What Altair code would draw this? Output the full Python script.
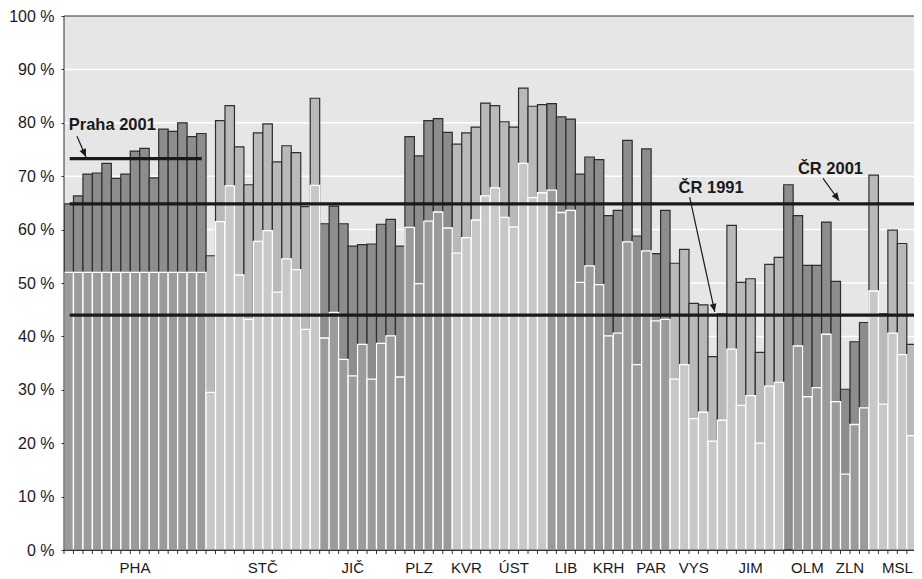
import altair as alt
import pandas as pd

# ---------------- data ----------------
regions = ["PHA", "STČ", "JIČ", "PLZ", "KVR", "ÚST", "LIB", "KRH", "PAR",
           "VYS", "JIM", "OLM", "ZLN", "MSL"]
district_counts = [15, 12, 7, 7, 3, 7, 4, 5, 4, 5, 7, 5, 4, 6]
region_shade = ["dark", "light", "dark", "dark", "light", "light", "dark",
                "dark", "dark", "light", "light", "dark", "dark", "light"]

share_2001 = [
    64.8, 66.3, 70.4, 70.6, 72.4, 69.6, 70.4, 74.7, 75.2, 69.7, 78.8, 78.4, 80.0, 77.4, 78.0,   # PHA
    55.1, 80.4, 83.2, 75.5, 68.4, 78.1, 79.8, 72.7, 75.7, 74.4, 64.3, 84.6,                     # STČ
    61.1, 64.4, 61.1, 56.9, 57.2, 57.3, 61.0,                                                   # JIČ
    61.9, 56.9, 77.4, 73.8, 80.4, 80.8, 78.2,                                                   # PLZ
    76.0, 78.1, 79.2,                                                                           # KVR
    83.7, 83.2, 80.2, 79.2, 86.5, 83.1, 83.4,                                                   # ÚST
    83.6, 81.1, 80.7, 70.4,                                                                     # LIB
    73.6, 73.1, 62.6, 63.6, 76.7,                                                               # KRH
    58.8, 75.1, 55.5, 63.6,                                                                     # PAR
    53.7, 56.3, 46.2, 45.9, 36.2,                                                               # VYS
    44.2, 60.8, 50.1, 50.8, 37.0, 53.5, 54.8,                                                   # JIM
    68.4, 62.6, 53.3, 53.3, 61.4,                                                               # OLM
    50.3, 30.1, 39.0, 42.6,                                                                     # ZLN
    70.2, 44.2, 59.9, 57.4, 38.5, 67.9,                                                         # MSL
]
share_1991 = [
    52.0, 52.0, 52.0, 52.0, 52.0, 52.0, 52.0, 52.0, 52.0, 52.0, 52.0, 52.0, 52.0, 52.0, 52.0,   # PHA
    29.5, 61.5, 68.2, 51.5, 43.2, 57.8, 59.8, 48.3, 54.5, 52.5, 41.3, 68.3,                     # STČ
    39.7, 44.5, 35.7, 32.6, 38.5, 32.0, 38.7,                                                   # JIČ
    40.1, 32.4, 60.4, 49.9, 61.6, 63.3, 60.3,                                                   # PLZ
    55.6, 58.5, 61.8,                                                                           # KVR
    66.3, 67.8, 62.3, 60.5, 72.4, 66.0, 66.9,                                                   # ÚST
    67.4, 63.2, 63.6, 50.1,                                                                     # LIB
    53.2, 49.7, 40.1, 40.6, 57.7,                                                               # KRH
    34.7, 56.0, 42.9, 43.2,                                                                     # PAR
    32.0, 34.7, 24.6, 25.8, 20.4,                                                               # VYS
    24.3, 37.6, 27.1, 28.9, 20.0, 30.7, 31.4,                                                   # JIM
    None, 38.2, 28.7, 30.4, 40.4,                                                               # OLM
    27.8, 14.2, 23.5, 26.6,                                                                     # ZLN
    48.5, 27.3, 40.6, 36.6, 21.4, 47.5,                                                         # MSL
]

# reference lines (value, start, end in bar units)
ref_names = ["ČR 2001", "ČR 1991", "Praha 2001"]
ref_values = [64.8, 44.0, 73.3]
ref_start = [0.6, 0.6, 0.6]
ref_end = [91.0, 91.0, 14.55]

# annotation labels (left x in bar units, baseline y in %)
note_text = ["Praha 2001", "ČR 1991", "ČR 2001"]
note_x = [0.5, 64.9, 77.5]
note_y = [78.65, 66.85, 70.5]
# arrows: start -> tip, and heading angle of the head
arrow_x0 = [1.37, 66.07, 80.15]
arrow_y0 = [77.5, 66.1, 69.6]
arrow_x1 = [2.32, 68.72, 81.86]
arrow_y1 = [73.6, 44.6, 65.4]
arrow_angle = [156.8, 167.7, 144.2]

y_ticks = list(range(0, 101, 10))

# ---------------- tables ----------------
rows = []
region_rows = []
i = 0
for reg, n, sh in zip(regions, district_counts, region_shade):
    region_rows.append({"region": reg, "center": i + n / 2})
    for _ in range(n):
        rows.append({"pos": i, "pos_end": i + 1, "region": reg, "shade": sh,
                     "v2001": share_2001[i], "v1991": share_1991[i]})
        i += 1
n_bars = i
bars = pd.DataFrame(rows)
reg_df = pd.DataFrame(region_rows)
refs = pd.DataFrame({"name": ref_names, "value": ref_values, "x0": ref_start, "x1": ref_end})
notes = pd.DataFrame({"text": note_text, "x": note_x, "y": note_y})
arrows = pd.DataFrame({"x0": arrow_x0, "y0": arrow_y0, "x1": arrow_x1, "y1": arrow_y1,
                       "angle": arrow_angle})
grid_df = pd.DataFrame({"v": y_ticks[1:-1]})
one = pd.DataFrame({"k": [0]})

W, H = 850, 534
X_MAX = 89.76
tick_df = pd.DataFrame({"b": [b for b in range(0, n_bars + 1) if b <= X_MAX]})

xs = alt.Scale(domain=[0, X_MAX], nice=False, zero=False)
ys = alt.Scale(domain=[0, 100], nice=False)

AX_FONT = "Liberation Sans, Arial, sans-serif"
INK = "#1a1a1a"

x_axis = alt.Axis(labels=False, ticks=False, domainColor="#333333", grid=False,
                  title=None, zindex=1)
y_axis = alt.Axis(values=y_ticks, labelExpr="datum.value + ' %'", tickSize=3,
                  tickColor="#333333", domainColor="#333333", labelFont=AX_FONT,
                  labelFontSize=16, labelColor=INK, labelPadding=7, grid=False,
                  title=None)

background = alt.Chart(one).mark_rect(color="#e6e6e6").encode(
    x=alt.value(0), x2=alt.value(W), y=alt.value(0), y2=alt.value(H))

grid = alt.Chart(grid_df).mark_rule(color="#ffffff", strokeWidth=1.5).encode(
    y=alt.Y("v:Q", scale=ys), x=alt.value(0), x2=alt.value(W))

base = alt.Chart(bars)

bar2001 = base.mark_rect(stroke="#2e2e2e", strokeWidth=1.2, clip=True).encode(
    x=alt.X("pos:Q", scale=xs, axis=x_axis),
    x2="pos_end:Q",
    y=alt.Y("v2001:Q", scale=ys, axis=y_axis),
    y2=alt.datum(0),
    fill=alt.condition(alt.datum.shade == "dark", alt.value("#8d8d8d"), alt.value("#b9b9b9")),
)

bar1991 = base.transform_filter("isValid(datum.v1991)").mark_rect(
    stroke="#ffffff", strokeWidth=1.3, clip=True).encode(
    x=alt.X("pos:Q", scale=xs),
    x2="pos_end:Q",
    y=alt.Y("v1991:Q", scale=ys),
    y2=alt.datum(0),
    fill=alt.condition(alt.datum.shade == "dark", alt.value("#9b9b9b"), alt.value("#c8c8c8")),
)

ref_rules = alt.Chart(refs).mark_rule(color=INK, strokeWidth=3.2, clip=True).encode(
    x=alt.X("x0:Q", scale=xs), x2="x1:Q", y=alt.Y("value:Q", scale=ys))

frame_top = alt.Chart(one).mark_rule(color="#333333", strokeWidth=1).encode(
    y=alt.value(0), x=alt.value(0), x2=alt.value(W))
frame_left = alt.Chart(one).mark_rule(color="#333333", strokeWidth=1).encode(
    x=alt.value(0), y=alt.value(0), y2=alt.value(H))
frame_bottom = alt.Chart(one).mark_rule(color="#333333", strokeWidth=1).encode(
    y=alt.value(H), x=alt.value(0), x2=alt.value(W))

x_ticks = alt.Chart(tick_df).mark_rule(color="#333333", strokeWidth=1).encode(
    x=alt.X("b:Q", scale=xs), y=alt.value(H), y2=alt.value(H + 4))

arrow_lines = alt.Chart(arrows).mark_rule(color=INK, strokeWidth=1.2).encode(
    x=alt.X("x0:Q", scale=xs), y=alt.Y("y0:Q", scale=ys), x2="x1:Q", y2="y1:Q")

arrow_heads = alt.Chart(arrows).mark_point(
    shape="M0,0 L-0.42,1 L0.42,1 Z", filled=True, size=260, color=INK,
    opacity=1, strokeWidth=0).encode(
    x=alt.X("x1:Q", scale=xs), y=alt.Y("y1:Q", scale=ys),
    angle=alt.Angle("angle:Q", scale=None))

note_marks = alt.Chart(notes).mark_text(
    font=AX_FONT, fontSize=16.5, fontWeight="bold", align="left",
    baseline="alphabetic", color=INK).encode(
    x=alt.X("x:Q", scale=xs), y=alt.Y("y:Q", scale=ys), text="text:N")

region_labels = alt.Chart(reg_df).mark_text(
    font=AX_FONT, fontSize=15, align="center", baseline="alphabetic", color=INK).encode(
    x=alt.X("center:Q", scale=xs), y=alt.value(H + 23), text="region:N")

chart = alt.layer(
    background, grid, bar2001, bar1991, ref_rules, frame_top, frame_left, frame_bottom,
    x_ticks, arrow_lines, arrow_heads, note_marks, region_labels,
).properties(
    width=W, height=H,
    autosize=alt.AutoSizeParams(type="none"),
    padding={"left": 56, "top": 8, "right": 0, "bottom": 28},
).configure_view(
    stroke="transparent"
).configure(background="#ffffff")

chart.save("out.html", embed_options={"renderer": "svg", "actions": False})
